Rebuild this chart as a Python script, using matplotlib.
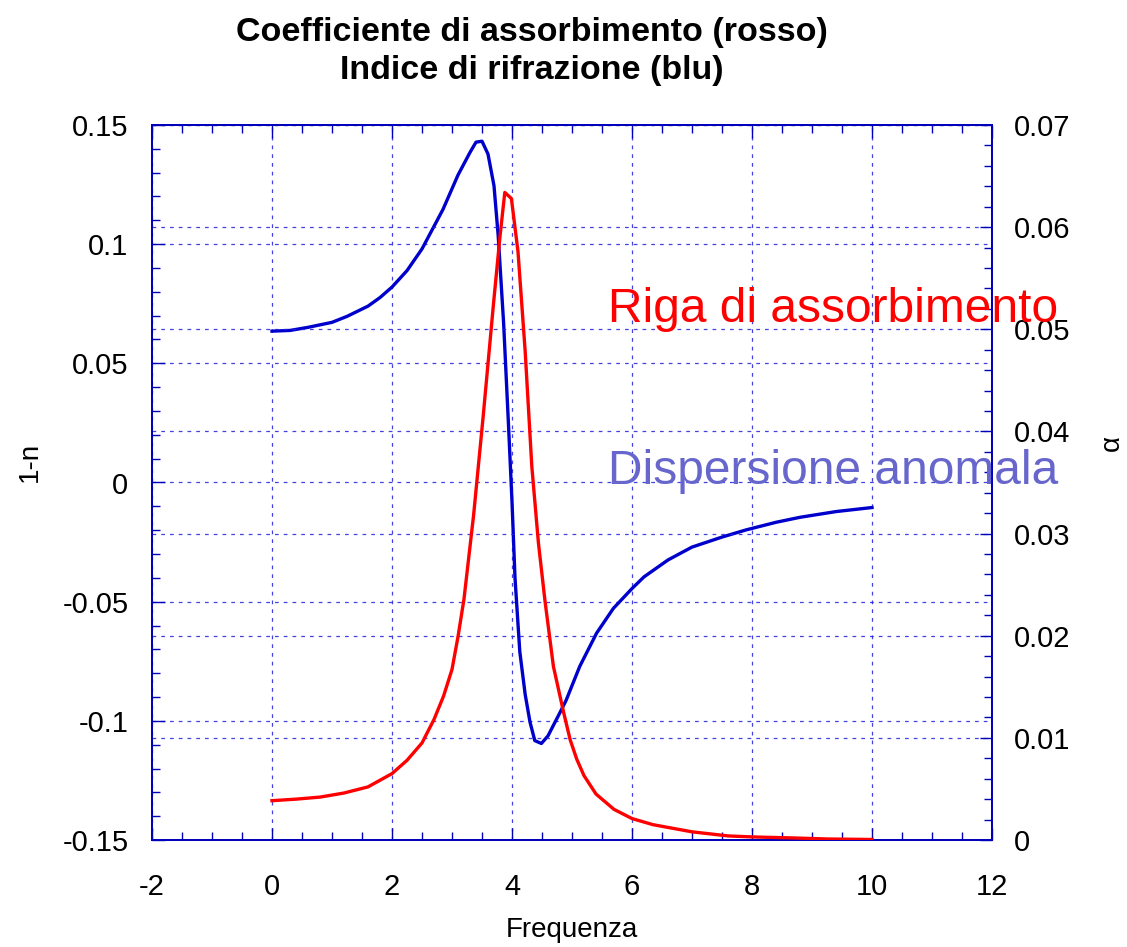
import numpy as np
import matplotlib
matplotlib.use("Agg")
import matplotlib.pyplot as plt
from matplotlib.ticker import MultipleLocator, FuncFormatter

plt.rcParams['font.family'] = ['Liberation Sans', 'DejaVu Sans']

# Indice di rifrazione (1-n), asse sinistro
freq_n = [0.0, 0.3, 0.6, 1.0, 1.25, 1.6, 1.8, 2.0, 2.25, 2.5, 2.85, 3.1, 3.3,
          3.4, 3.5, 3.6, 3.7, 3.77, 3.86, 3.94, 4.0, 4.05, 4.13, 4.22, 4.3,
          4.38, 4.49, 4.6, 4.8, 4.9, 5.13, 5.41, 5.69, 6.0, 6.2, 6.6, 7.0,
          7.5, 7.9, 8.4, 8.8, 9.4, 10.0]
uno_meno_n = [0.0635, 0.0638, 0.0651, 0.0672, 0.0697, 0.0740, 0.0776, 0.0820,
              0.0889, 0.0980, 0.1146, 0.1290, 0.1385, 0.1428, 0.1432, 0.1378,
              0.1245, 0.1035, 0.0670, 0.0250, -0.0080, -0.0400, -0.0710,
              -0.0890, -0.1005, -0.1083, -0.1095, -0.1063, -0.0965, -0.0915,
              -0.0771, -0.0632, -0.0528, -0.0445, -0.0396, -0.0325, -0.0271,
              -0.0229, -0.0199, -0.0167, -0.0146, -0.0122, -0.0105]

# Coefficiente di assorbimento, asse destro
freq_a = [0.0, 0.4, 0.8, 1.2, 1.6, 2.0, 2.25, 2.5, 2.7, 2.86, 3.0, 3.1, 3.2,
          3.36, 3.52, 3.69, 3.8, 3.88, 3.99, 4.1, 4.22, 4.33, 4.44, 4.55, 4.69,
          4.86, 4.97, 5.08, 5.2, 5.4, 5.7, 6.0, 6.35, 7.0, 7.6, 8.0, 8.7, 9.25,
          10.0]
alpha = [0.00385, 0.0040, 0.0042, 0.0046, 0.0052, 0.0065, 0.0078, 0.0095,
         0.0118, 0.0141, 0.0167, 0.0199, 0.0236, 0.0318, 0.0415, 0.0524,
         0.0591, 0.0634, 0.0628, 0.0576, 0.0478, 0.0366, 0.0291, 0.0234,
         0.0170, 0.0125, 0.0098, 0.0079, 0.0063, 0.0045, 0.0030, 0.0021,
         0.0015, 0.0008, 0.0004, 0.0003, 0.0002, 0.0001, 0.00005]

axis_col = '#0000bb'
grid_col = '#2222dd'

W, H = 1127, 947
fig = plt.figure(figsize=(W / 100, H / 100), dpi=100)
ax = fig.add_axes([152 / W, 107 / H, 840 / W, 715 / H])
ax2 = ax.twinx()

ax.plot(freq_n, uno_meno_n, color='#0000cc', lw=2.4, zorder=3)
ax2.plot(freq_a, alpha, color='#ff0000', lw=2.4, zorder=3)

ax.set_xlim(-2, 12)
ax.set_ylim(-0.15, 0.15)
ax2.set_ylim(0, 0.07)

ax.xaxis.set_major_locator(MultipleLocator(2))
ax.xaxis.set_minor_locator(MultipleLocator(0.5))
ax.yaxis.set_major_locator(MultipleLocator(0.05))
ax.yaxis.set_minor_locator(MultipleLocator(0.01))
ax2.yaxis.set_major_locator(MultipleLocator(0.01))
ax2.yaxis.set_minor_locator(MultipleLocator(0.002))

fmt = FuncFormatter(lambda v, p: '%g' % round(v, 4))
ax.xaxis.set_major_formatter(fmt)
ax.yaxis.set_major_formatter(fmt)
ax2.yaxis.set_major_formatter(fmt)

grid_kw = dict(color=grid_col, linestyle=(0, (3, 4)), linewidth=0.9, alpha=0.85)
ax.grid(True, which='major', **grid_kw)
ax2.grid(True, which='major', axis='y', **grid_kw)
ax.set_axisbelow(True)
ax2.set_axisbelow(True)

ax.tick_params(axis='x', which='both', direction='in', top=True, colors=axis_col,
               labelcolor='black', labelsize=21, pad=24)
ax.tick_params(axis='y', which='both', direction='in', right=False, colors=axis_col,
               labelcolor='black', labelsize=21, pad=17)
ax2.tick_params(axis='y', which='both', direction='in', colors=axis_col,
                labelcolor='black', labelsize=21, pad=16)
for a in (ax, ax2):
    a.tick_params(which='major', length=9, width=1.0)
    a.tick_params(which='minor', length=6, width=1.0)
    for s in a.spines.values():
        s.set_color(axis_col)
        s.set_linewidth(1.3)

# etichette degli assi
fig.text(572 / W, 1 - 930 / H, 'Frequenza', fontsize=20, ha='center', va='center')
fig.text(30 / W, 1 - 462 / H, '1-n', fontsize=20, ha='center', va='center',
         rotation=90)
fig.text(1112 / W, 1 - 443 / H, 'α', fontsize=20, ha='center', va='center',
         rotation=90)

title_font = ['Liberation Sans Narrow', 'Liberation Sans']
fig.text(532 / W, 1 - 32 / H, 'Coefficiente di assorbimento (rosso)',
         ha='center', va='center', fontsize=24.5, fontweight='bold', family=title_font)
fig.text(532 / W, 1 - 71 / H, 'Indice di rifrazione (blu)',
         ha='center', va='center', fontsize=24.5, fontweight='bold', family=title_font)

ax2.text(5.6, 0.0507, 'Riga di assorbimento', color='#ff0000', fontsize=34.5,
         ha='left', va='baseline', clip_on=False, zorder=5)
ax2.text(5.6, 0.0349, 'Dispersione anomala', color='#6666cc', fontsize=34.5,
         ha='left', va='baseline', clip_on=False, zorder=5)

fig.savefig('out.png', dpi=100)
